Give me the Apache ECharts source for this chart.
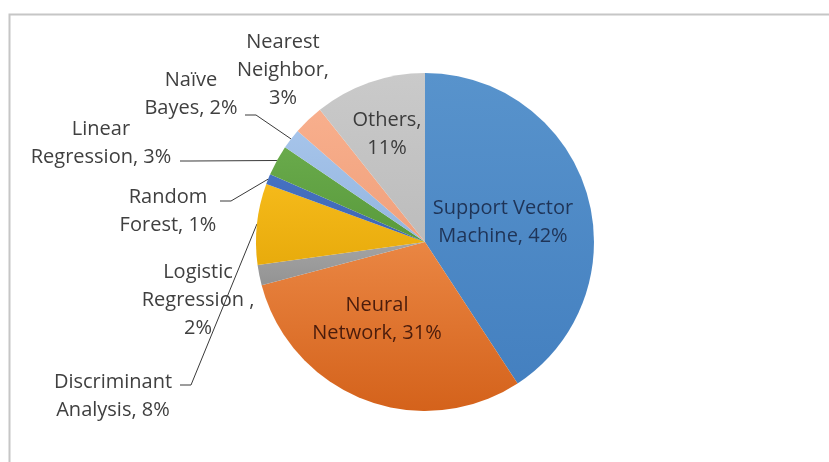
<!DOCTYPE html>
<html>
<head>
<meta charset="utf-8">
<script src="https://cdn.jsdelivr.net/npm/echarts@6/dist/echarts.min.js"></script>
<style>
  html, body { margin: 0; padding: 0; background: #fff; }
  #chart { width: 829px; height: 462px; }
</style>
</head>
<body>
<div id="chart"></div>
<script>
// Share of studies by learning method (percent), clockwise from 12 o'clock
const categories = [
  'Support Vector\nMachine',
  'Neural\nNetwork',
  'Logistic\nRegression ',
  'Discriminant\nAnalysis',
  'Random\nForest',
  'Linear\nRegression',
  'Naïve\nBayes',
  'Nearest\nNeighbor',
  'Others'
];
const shares = [42, 31, 2, 8, 1, 3, 2, 3, 11];
// labels whose percentage sits on its own line
const valueOnNewLine = [false, false, true, false, false, false, false, true, true];

// slice fills: [top, bottom] of a soft vertical shade
const sliceFills = [
  ['#5893cc', '#4480c0'],
  ['#ea8643', '#d4621b'],
  ['#a4a4a4', '#939393'],
  ['#f5ba1a', '#e8ab0c'],
  ['#4672c2', '#3e65b3'],
  ['#69aa4b', '#599a3c'],
  ['#a6c4ea', '#93b5df'],
  ['#f8af8d', '#f0a07b'],
  ['#cacaca', '#bcbcbc']
];
const labelInk = ['#1f3457', '#4a1c0c', '#404040', '#404040', '#404040', '#404040', '#404040', '#404040', '#3c3c3c'];

// text block centres and, for leader-lined labels, where the leader meets the text
const labelSpots = [
  { x: 503, y: 222 },
  { x: 377, y: 319 },
  { x: 198, y: 300 },
  { x: 113, y: 396, tie: [180, 385] },
  { x: 168, y: 211, tie: [220, 201] },
  { x: 101, y: 143, tie: [180, 161] },
  { x: 191, y: 94,  tie: [245, 115] },
  { x: 283, y: 70 },
  { x: 387, y: 134 }
];

const chart = echarts.init(document.getElementById('chart'), null, { renderer: 'canvas' });

const seriesData = categories.map((name, i) => ({
  name: name,
  value: shares[i],
  itemStyle: {
    color: new echarts.graphic.LinearGradient(0, 0, 0, 1, [
      { offset: 0, color: sliceFills[i][0] },
      { offset: 1, color: sliceFills[i][1] }
    ])
  },
  label: { color: labelInk[i] },
  labelLine: { show: !!labelSpots[i].tie }
}));

chart.setOption({
  animation: false,
  backgroundColor: '#ffffff',
  graphic: [{
    type: 'rect',
    silent: true,
    shape: { x: 9.5, y: 14.5, width: 900, height: 600 },
    style: { fill: 'none', stroke: '#c6c6c6', lineWidth: 2 }
  }],
  series: [{
    type: 'pie',
    center: [425, 242],
    radius: 169,
    startAngle: 90,
    clockwise: true,
    avoidLabelOverlap: false,
    emphasis: { disabled: true },
    itemStyle: { borderWidth: 0 },
    label: {
      show: true,
      position: 'outside',
      width: 200,
      overflow: 'none',
      fontFamily: '"Open Sans", "Noto Sans", sans-serif',
      fontSize: 20,
      lineHeight: 28,
      align: 'center',
      formatter: (p) => p.name + ',' + (valueOnNewLine[p.dataIndex] ? '\n' : ' ') + p.value + '%'
    },
    labelLine: {
      show: true,
      length: 10,
      length2: 10,
      lineStyle: { color: '#3a3a3a', width: 1 }
    },
    labelLayout: function (p) {
      const spot = labelSpots[p.dataIndex];
      const out = { x: spot.x, y: spot.y, align: 'center', verticalAlign: 'middle' };
      if (spot.tie && p.labelLinePoints && p.labelLinePoints.length) {
        const anchor = p.labelLinePoints[0];
        out.labelLinePoints = [
          anchor,
          [spot.tie[0] + 11, spot.tie[1]],
          spot.tie
        ];
      }
      return out;
    },
    data: seriesData
  }]
});
</script>
</body>
</html>
